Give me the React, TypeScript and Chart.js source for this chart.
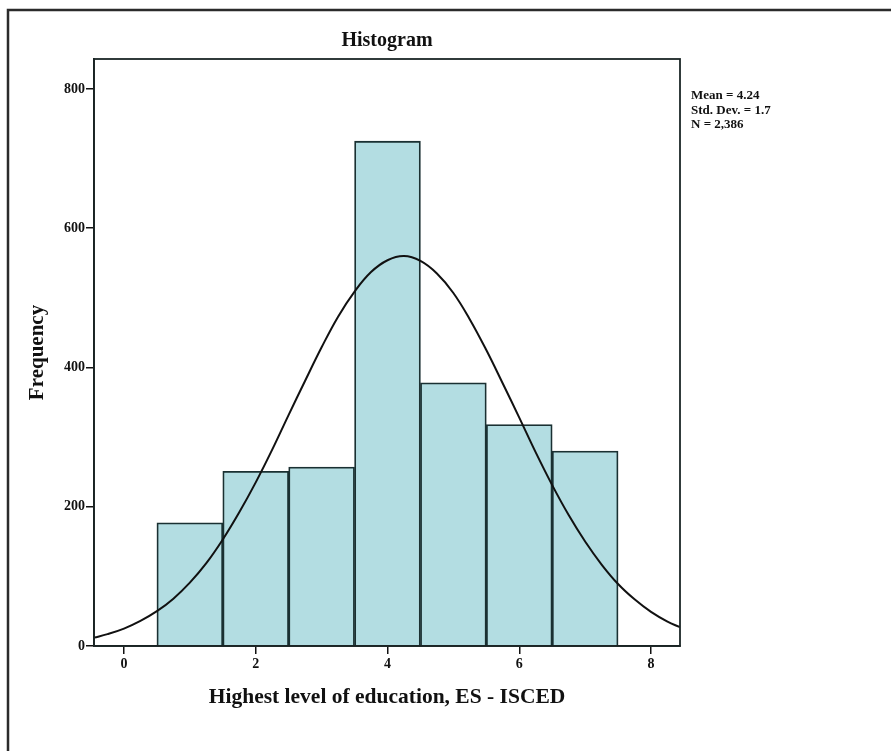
import React, { useEffect, useRef } from "react";
import { Chart, registerables } from "chart.js";

Chart.register(...registerables);

// ---- data ----
const binCenters = [1, 2, 3, 4, 5, 6, 7];
const frequencies = [177, 251, 257, 725, 378, 318, 280];

// normal curve (x in education level, y in frequency)
const curveX = [
  -0.455, -0.25, 0, 0.25, 0.5, 0.75, 1, 1.25, 1.5, 1.75, 2, 2.25, 2.5, 2.75, 3, 3.25, 3.5, 3.75, 4, 4.25,
  4.5, 4.75, 5, 5.25, 5.5, 5.75, 6, 6.25, 6.5, 6.75, 7, 7.25, 7.5, 7.75, 8, 8.25, 8.44,
];
const curveY = [
  12, 17, 25, 36, 50, 68, 91, 119, 153, 192, 235, 282, 332, 381, 429, 473, 509, 537, 554, 560,
  553, 535, 507, 469, 425, 377, 328, 278, 231, 188, 150, 117, 89, 67, 49, 35, 27,
];

const xTicks = [0, 2, 4, 6, 8];
const yTicks = [0, 200, 400, 600, 800];
const xRange = [-0.455, 8.44];
const yRange = [0, 843];

const titleText = "Histogram";
const xTitleText = "Highest level of education, ES - ISCED";
const yTitleText = "Frequency";
const statsLines = ["Mean = 4.24", "Std. Dev. = 1.7", "N = 2,386"];

const FONT = "'Liberation Serif', 'Times New Roman', serif";
const INK = "#111111";

const decorPlugin = {
  id: "decor",
  beforeDraw(chart: any) {
    const ctx = chart.ctx;
    ctx.save();
    ctx.fillStyle = "#ffffff";
    ctx.fillRect(0, 0, chart.width, chart.height);
    ctx.strokeStyle = "#2b2b2b";
    ctx.lineWidth = 2.5;
    ctx.strokeRect(8, 10, chart.width + 20, chart.height + 20);
    ctx.restore();
  },
  afterDatasetsDraw(chart: any) {
    const { ctx, chartArea } = chart;
    ctx.save();
    ctx.strokeStyle = "#1b2626";
    ctx.lineWidth = 1.8;
    ctx.strokeRect(chartArea.left, chartArea.top, chartArea.right - chartArea.left, chartArea.bottom - chartArea.top);
    ctx.restore();
  },
  afterDraw(chart: any) {
    const { ctx, chartArea } = chart;
    ctx.save();
    ctx.fillStyle = INK;
    ctx.font = `bold 13px ${FONT}`;
    ctx.textBaseline = "middle";
    ctx.textAlign = "left";
    statsLines.forEach((t, i) => {
      ctx.fillText(t, chartArea.right + 11, 96 + i * 14.5);
    });
    ctx.restore();
  },
};

export default function App() {
  const canvasRef = useRef<HTMLCanvasElement | null>(null);

  useEffect(() => {
    if (!canvasRef.current) return;
    const chart = new Chart(canvasRef.current, {
      type: "bar",
      data: {
        datasets: [
          {
            type: "line",
            label: "Normal",
            data: curveX.map((x, i) => ({ x, y: curveY[i] })),
            borderColor: INK,
            borderWidth: 2,
            pointRadius: 0,
            fill: false,
            tension: 0.4,
            order: 0,
          } as any,
          {
            type: "bar",
            label: "Frequency",
            data: binCenters.map((x, i) => ({ x, y: frequencies[i] })),
            backgroundColor: "#b3dde2",
            borderColor: "#1a3032",
            borderWidth: 1.8,
            barPercentage: 1,
            categoryPercentage: 1,
            grouped: false,
            order: 1,
          } as any,
        ],
      },
      options: {
        responsive: false,
        animation: false,
        devicePixelRatio: 1,
        layout: { padding: { left: 0, top: 0, right: 211, bottom: 0 } },
        plugins: {
          legend: { display: false },
          tooltip: { enabled: false },
          title: {
            display: true,
            text: titleText,
            fullSize: false,
            color: INK,
            font: { family: FONT, size: 20, weight: "bold", lineHeight: 1.2 },
            padding: { top: 29, bottom: 6 },
          },
        },
        scales: {
          x: {
            type: "linear",
            min: xRange[0],
            max: xRange[1],
            offset: false,
            afterBuildTicks: (axis: any) => {
              axis.ticks = xTicks.map((v) => ({ value: v }));
            },
            afterFit: (axis: any) => {
              axis.height = 105;
            },
            grid: {
              display: true,
              offset: false,
              drawOnChartArea: false,
              drawTicks: true,
              tickLength: 8,
              color: INK,
              lineWidth: 1.5,
            },
            border: { display: true, color: INK, width: 1.8 },
            ticks: {
              color: INK,
              font: { family: FONT, size: 14, weight: "bold" },
              padding: 2,
              maxRotation: 0,
              autoSkip: false,
            },
            title: {
              display: true,
              text: xTitleText,
              color: INK,
              font: { family: FONT, size: 21.5, weight: "bold", lineHeight: 1.2 },
              padding: { top: 0, bottom: 41 },
            },
          },
          y: {
            type: "linear",
            min: yRange[0],
            max: yRange[1],
            afterBuildTicks: (axis: any) => {
              axis.ticks = yTicks.map((v) => ({ value: v }));
            },
            afterFit: (axis: any) => {
              axis.width = 94;
            },
            grid: { display: true, drawOnChartArea: false, drawTicks: true, tickLength: 8, color: INK, lineWidth: 1.5 },
            border: { display: true, color: INK, width: 1.8 },
            ticks: {
              color: INK,
              font: { family: FONT, size: 14, weight: "bold" },
              padding: 1,
              autoSkip: false,
            },
            title: {
              display: true,
              text: yTitleText,
              color: INK,
              font: { family: FONT, size: 21, weight: "bold", lineHeight: 1.2 },
              padding: { top: 25, bottom: 0 },
            },
          },
        },
      },
      plugins: [decorPlugin],
    });
    return () => chart.destroy();
  }, []);

  return (
    <div style={{ position: "absolute", left: 0, top: 0, width: 891, height: 751 }}>
      <canvas ref={canvasRef} width={891} height={751} style={{ width: 891, height: 751, display: "block" }} />
    </div>
  );
}
